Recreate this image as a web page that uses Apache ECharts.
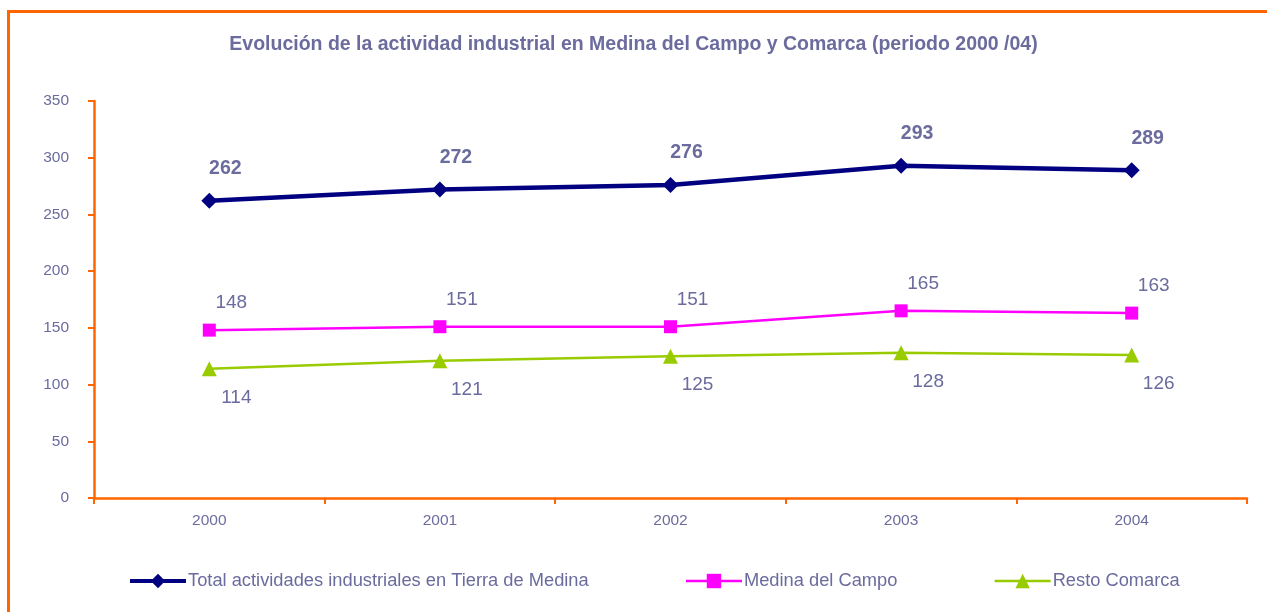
<!DOCTYPE html>
<html>
<head>
<meta charset="utf-8">
<title>Actividad industrial Medina del Campo</title>
<script src="https://cdn.jsdelivr.net/npm/echarts@6/dist/echarts.min.js"></script>
<style>
  html, body { margin: 0; padding: 0; background: #fff; overflow: hidden; }
  #chart { width: 1267px; height: 612px; }
</style>
</head>
<body>
<div id="chart"></div>
<script>
const years = ['2000', '2001', '2002', '2003', '2004']
const totalTierra = [262, 272, 276, 293, 289]
const medinaCampo = [148, 151, 151, 165, 163]
const restoComarca = [114, 121, 125, 128, 126]
const yTicks = [0, 50, 100, 150, 200, 250, 300, 350]

const textColor = '#6b6b9e'
const axisColor = '#ff6600'
const font = 'Arial, "Liberation Sans", sans-serif'

const chart = echarts.init(document.getElementById('chart'))

chart.setOption({
  animation: false,
  textStyle: { fontFamily: font },
  title: {
    text: 'Evolución de la actividad industrial en Medina del Campo y Comarca (periodo 2000 /04)',
    left: 'center',
    top: 30,
    textStyle: { color: textColor, fontSize: 19.5, fontWeight: 'bold', fontFamily: font }
  },
  // orange frame round the chart area
  graphic: [{
    type: 'rect',
    shape: { x: 8.5, y: 11.5, width: 1320, height: 700 },
    style: { fill: 'none', stroke: axisColor, lineWidth: 3 },
    silent: true
  }],
  grid: { left: 94, right: 20, top: 101, bottom: 114 },
  legend: {
    left: 123,
    top: 567,
    itemGap: 96,
    itemWidth: 56,
    itemHeight: 18,
    textStyle: { color: textColor, fontSize: 18.3, fontFamily: font, padding: [0, 0, 0, -3] },
    data: [
      { name: 'Total actividades industriales en Tierra de Medina', lineStyle: { width: 4 } },
      { name: 'Medina del Campo', lineStyle: { width: 2.5 } },
      { name: 'Resto Comarca', lineStyle: { width: 2.5 } }
    ]
  },
  xAxis: {
    type: 'category',
    data: years,
    boundaryGap: true,
    axisLine: { lineStyle: { color: axisColor, width: 2.5 } },
    axisTick: { show: true, length: 6, inside: false, lineStyle: { color: axisColor, width: 2 } },
    axisLabel: { color: textColor, fontSize: 15.5, margin: 15 },
    splitLine: { show: false }
  },
  yAxis: {
    type: 'value',
    min: yTicks[0],
    max: yTicks[yTicks.length - 1],
    interval: 50,
    axisLine: { show: true, lineStyle: { color: axisColor, width: 2.5 } },
    axisTick: { show: true, length: 6, lineStyle: { color: axisColor, width: 2 } },
    axisLabel: { color: textColor, fontSize: 15.5, margin: 25 },
    splitLine: { show: false }
  },
  series: [
    {
      name: 'Total actividades industriales en Tierra de Medina',
      type: 'line',
      data: totalTierra,
      symbol: 'diamond',
      symbolSize: 16,
      itemStyle: { color: '#000080' },
      lineStyle: { color: '#000080', width: 4.5 },
      label: {
        show: true,
        position: 'top',
        distance: 14,
        offset: [16, 0],
        color: textColor,
        fontSize: 19.5,
        fontWeight: 'bold'
      },
      z: 3
    },
    {
      name: 'Medina del Campo',
      type: 'line',
      data: medinaCampo,
      symbol: 'rect',
      symbolSize: 13,
      itemStyle: { color: '#ff00ff' },
      lineStyle: { color: '#ff00ff', width: 2.5 },
      label: {
        show: true,
        position: 'top',
        distance: 11,
        offset: [22, 0],
        color: textColor,
        fontSize: 19
      },
      z: 2
    },
    {
      name: 'Resto Comarca',
      type: 'line',
      data: restoComarca,
      symbol: 'triangle',
      symbolSize: 15,
      itemStyle: { color: '#99cc00' },
      lineStyle: { color: '#99cc00', width: 2.5 },
      label: {
        show: true,
        position: 'bottom',
        distance: 12,
        offset: [27, 0],
        color: textColor,
        fontSize: 19
      },
      z: 2
    }
  ]
})
</script>
</body>
</html>
